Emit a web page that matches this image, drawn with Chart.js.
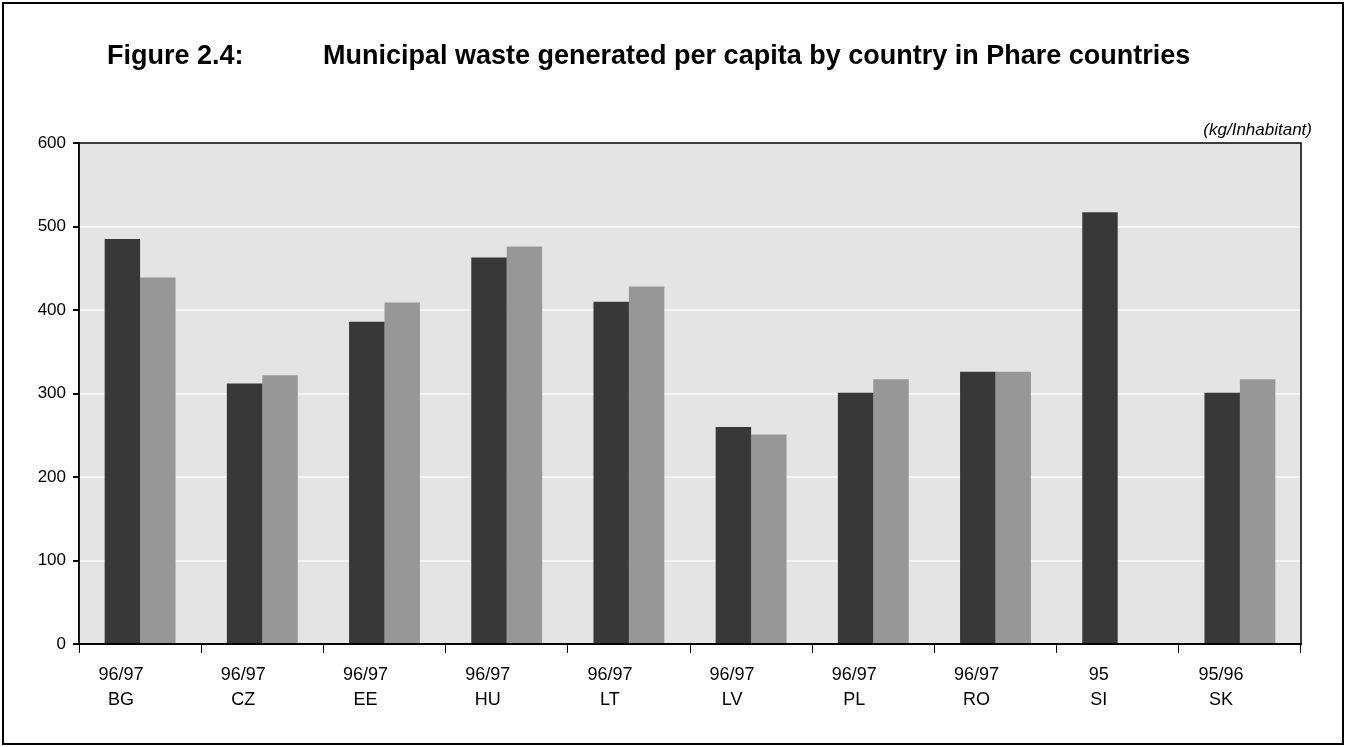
<!DOCTYPE html>
<html>
<head>
<meta charset="utf-8">
<title>Figure 2.4</title>
<script src="https://cdn.jsdelivr.net/npm/chart.js@4"></script>
<style>
  html, body { margin: 0; padding: 0; background: #fff; }
  #wrap { width: 1346px; height: 747px; }
</style>
</head>
<body>
<div id="wrap"><canvas id="myChart" width="1346" height="747"></canvas></div>
<script>
// data
var countries = ['BG', 'CZ', 'EE', 'HU', 'LT', 'LV', 'PL', 'RO', 'SI', 'SK'];
var periods = ['96/97', '96/97', '96/97', '96/97', '96/97', '96/97', '96/97', '96/97', '95', '95/96'];
var serieA = [485, 312, 386, 463, 410, 260, 301, 326, 517, 301];
var serieB = [439, 322, 409, 476, 428, 251, 317, 326, null, 317];
var yTicks = [0, 100, 200, 300, 400, 500, 600];

var rotulos = countries.map(function (c, i) { return [periods[i], c]; });
var fonte = '"Liberation Sans", Arial, sans-serif';

var molduraPlugin = {
    id: 'moldura',
    beforeDraw: function (chart) {
        var ctx = chart.ctx, a = chart.chartArea;
        ctx.save();
        ctx.fillStyle = '#e4e4e4';
        ctx.fillRect(a.left, a.top, a.right - a.left, a.bottom - a.top);
        ctx.restore();
    },
    afterDraw: function (chart) {
        var ctx = chart.ctx, a = chart.chartArea;
        ctx.save();
        ctx.strokeStyle = '#000';
        ctx.lineWidth = 1.5;
        ctx.strokeRect(a.left, a.top, a.right - a.left, a.bottom - a.top);
        ctx.lineWidth = 2;
        ctx.strokeRect(3, 3, chart.width - 6, chart.height - 6);

        ctx.fillStyle = '#000';
        ctx.textBaseline = 'middle';
        ctx.font = 'bold 27px ' + fonte;
        ctx.textAlign = 'left';
        ctx.fillText('Figure 2.4:', 107, 57);
        ctx.fillText('Municipal waste generated per capita by country in Phare countries', 323, 57);

        ctx.font = 'italic 17px ' + fonte;
        ctx.textAlign = 'right';
        ctx.textBaseline = 'alphabetic';
        ctx.fillText('(kg/Inhabitant)', 1312, 135);
        ctx.restore();
    }
};

var ctx = document.getElementById('myChart');
var myChart = new Chart(ctx, {
    type: 'bar',
    data: {
        labels: rotulos,
        datasets: [{
            data: serieA,
            backgroundColor: '#383838',
            borderWidth: 0
        }, {
            data: serieB,
            backgroundColor: '#979797',
            borderWidth: 0
        }]
    },
    options: {
        responsive: false,
        animation: false,
        layout: { padding: { left: 0, right: 45, top: 143, bottom: 0 } },
        datasets: { bar: { categoryPercentage: 0.58, barPercentage: 1.0 } },
        plugins: {
            legend: { display: false },
            tooltip: { enabled: false },
            title: { display: false }
        },
        scales: {
            x: {
                afterFit: function (s) { s.height = 103; },
                grid: {
                    offset: true,
                    drawOnChartArea: false,
                    tickColor: '#000',
                    tickLength: 9
                },
                border: { color: '#000', width: 2 },
                ticks: {
                    color: '#000',
                    padding: 10,
                    labelOffset: -19,
                    font: { family: fonte, size: 18, lineHeight: 1.38 }
                }
            },
            y: {
                min: 0,
                max: 600,
                afterFit: function (s) { s.width = 79; },
                afterBuildTicks: function (s) { s.ticks = yTicks.map(function (v) { return { value: v }; }); },
                grid: {
                    color: 'rgba(255,255,255,0.55)',
                    lineWidth: 2,
                    tickColor: '#000',
                    tickLength: 6
                },
                border: { color: '#000', width: 1.5 },
                ticks: {
                    color: '#000',
                    padding: 7,
                    font: { family: fonte, size: 17 }
                }
            }
        }
    },
    plugins: [molduraPlugin]
});
</script>
</body>
</html>
